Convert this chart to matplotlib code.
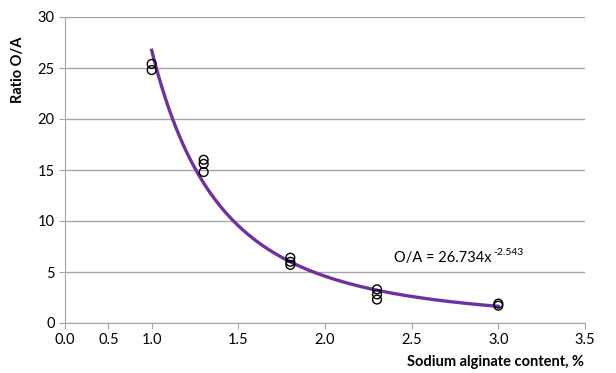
import numpy as np
import matplotlib.pyplot as plt

# measured O/A ratios at each sodium alginate content
x_vals = [1.0, 1.0, 1.3, 1.3, 1.3, 1.8, 1.8, 1.8, 2.3, 2.3, 2.3, 3.0, 3.0]
ratio = [25.4, 24.8, 16.0, 15.6, 14.8, 6.4, 6.0, 5.7, 3.3, 2.8, 2.3, 1.9, 1.7]

# power-law trendline O/A = a * x^b
fit_a = 26.734
fit_b = -2.543

x_ticks = [0.0, 0.5, 1.0, 1.5, 2.0, 2.5, 3.0, 3.5]
y_ticks = [0, 5, 10, 15, 20, 25, 30]

plt.rcParams['font.family'] = ['Lato', 'DejaVu Sans']

# the 0-1 stretch of the x axis is drawn at half width
K = 0.5


def fwd(x):
    x = np.asarray(x, dtype=float)
    return np.where(x <= 1, x * K, K + (x - 1))


def inv(t):
    t = np.asarray(t, dtype=float)
    return np.where(t <= K, t / K, 1 + (t - K))


fig = plt.figure(figsize=(6.16, 3.73), dpi=100)
ax = fig.add_axes([65 / 616, 1 - 323 / 373, 520 / 616, 306 / 373])
ax.set_xscale('function', functions=(fwd, inv))

xs = np.linspace(min(x_vals), max(x_vals), 200)
ax.plot(xs, fit_a * xs ** fit_b, color='#7030A0', lw=2.4, zorder=2)
ax.scatter(x_vals, ratio, s=40, facecolors='none', edgecolors='black',
           linewidths=1.0, zorder=3)

ax.set_xlim(0, 3.5)
ax.set_ylim(0, 30)
ax.set_xticks(x_ticks)
ax.set_xticklabels([f'{v:.1f}' for v in x_ticks])
ax.minorticks_off()
ax.set_yticks(y_ticks)
ax.grid(axis='y', color='#a6a6a6', lw=1.0)
ax.set_axisbelow(True)

for s in ['top', 'right']:
    ax.spines[s].set_visible(False)
for s in ['left', 'bottom']:
    ax.spines[s].set_color('#a6a6a6')
ax.tick_params(axis='both', colors='#a6a6a6', labelcolor='black',
               labelsize=10.5, length=4, direction='out')

# trendline equation, exponent as a raised smaller label
eq = ax.text(2.4, 6.0, f'O/A = {fit_a}x', fontsize=10.5, va='baseline')
ax.annotate(f'{fit_b}', xy=(2.4, 6.0), xycoords='data',
            xytext=(71, 5), textcoords='offset points',
            fontsize=7.5, va='baseline', ha='left')

fig.text(584 / 616, 1 - 362 / 373, 'Sodium alginate content, %',
         ha='right', va='center', fontsize=10.5, fontweight='bold')
fig.text(18 / 616, 1 - 70 / 373, 'Ratio O/A', rotation=90,
         ha='center', va='center', fontsize=10.5, fontweight='bold')

fig.savefig('out.png', dpi=100)
